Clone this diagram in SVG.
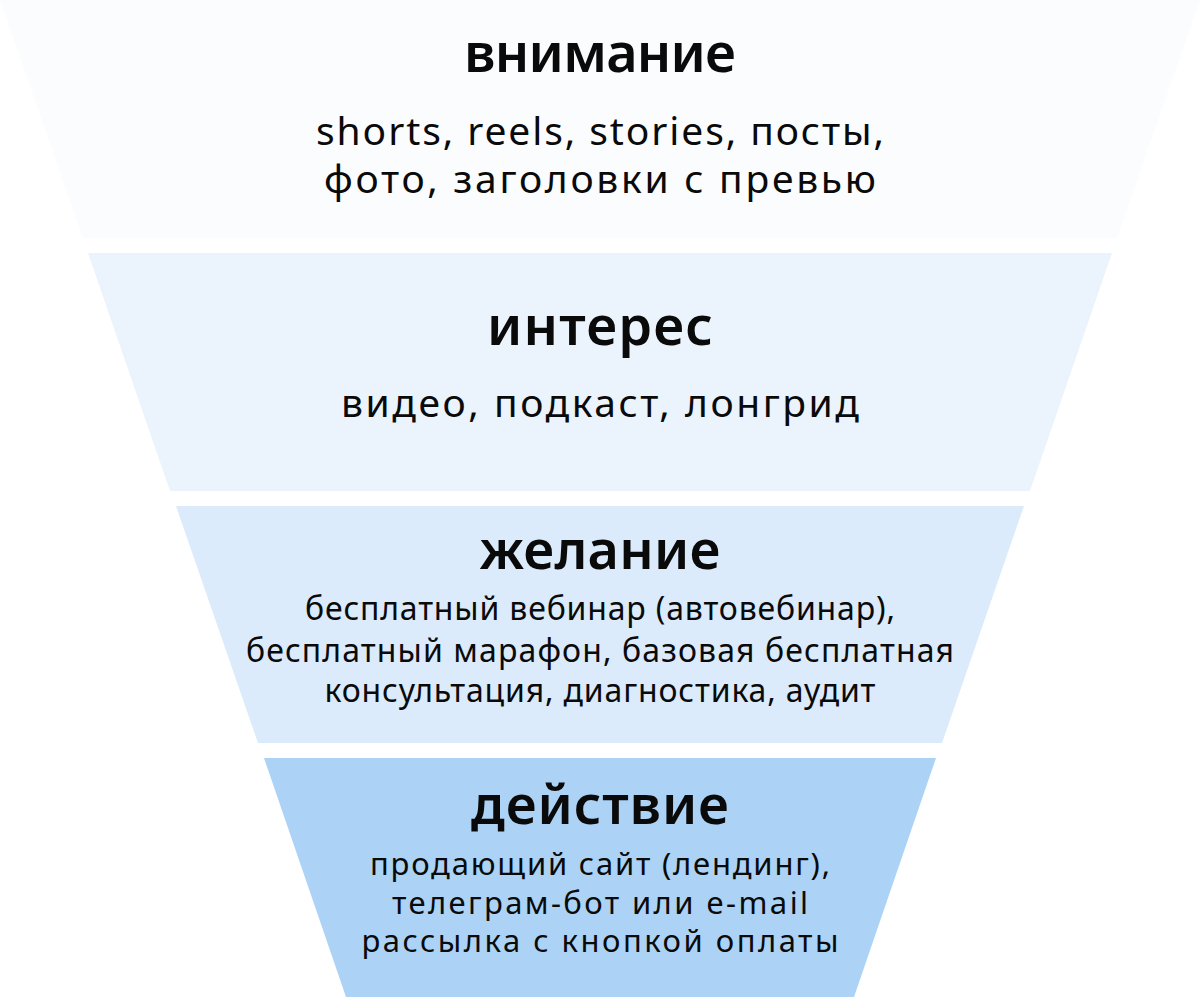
<svg xmlns="http://www.w3.org/2000/svg" width="1200" height="997" viewBox="0 0 1200 997">
<style>
.h{font-family:"Noto Sans","DejaVu Sans",sans-serif;font-weight:600;font-size:54px;fill:#0a0a0a;text-anchor:middle}
.t{font-family:"Noto Sans","DejaVu Sans",sans-serif;font-weight:400;font-size:39px;fill:#0a0a0a;text-anchor:middle}
.s{font-family:"Noto Sans","DejaVu Sans",sans-serif;font-weight:400;font-size:32px;fill:#0a0a0a;text-anchor:middle}
.a{font-family:"Noto Sans","DejaVu Sans",sans-serif;font-weight:400;font-size:31px;fill:#0a0a0a;text-anchor:middle}
</style>
<rect width="1200" height="997" fill="#ffffff"/>
<g id="attention">
<polygon points="0,0 1200,0 1117,238 83,238" fill="#fbfcfd"/>
<text class="h" x="600" y="72" textLength="272" lengthAdjust="spacing">внимание</text>
<text class="t" x="600" y="145" textLength="568" lengthAdjust="spacing">shorts, reels, stories, посты,</text>
<text class="t" x="600" y="193" textLength="552" lengthAdjust="spacing">фото, заголовки с превью</text>
</g>
<g id="interest">
<polygon points="88,253 1112,253 1030,491 170,491" fill="#ebf3fc"/>
<text class="h" x="600" y="345" textLength="226" lengthAdjust="spacing">интерес</text>
<text class="t" x="600" y="417" textLength="518" lengthAdjust="spacing">видео, подкаст, лонгрид</text>
</g>
<g id="desire">
<polygon points="176,506 1024,506 942,743 258,743" fill="#dbebfb"/>
<text class="h" x="600" y="569" textLength="241" lengthAdjust="spacing">желание</text>
<text class="s" x="600" y="620" textLength="590" lengthAdjust="spacing">бесплатный вебинар (автовебинар),</text>
<text class="s" x="600" y="662" textLength="708" lengthAdjust="spacing">бесплатный марафон, базовая бесплатная</text>
<text class="s" x="600" y="702" textLength="551" lengthAdjust="spacing">консультация, диагностика, аудит</text>
</g>
<g id="action">
<polygon points="264,758 936,758 854,997 346,997" fill="#acd3f6"/>
<text class="h" x="600" y="824" textLength="258" lengthAdjust="spacing">действие</text>
<text class="a" x="600" y="875" textLength="460" lengthAdjust="spacing">продающий сайт (лендинг),</text>
<text class="a" x="600" y="914" textLength="416" lengthAdjust="spacing">телеграм-бот или e-mail</text>
<text class="a" x="600" y="952" textLength="477" lengthAdjust="spacing">рассылка с кнопкой оплаты</text>
</g>
<g id="connectors"></g>
</svg>
